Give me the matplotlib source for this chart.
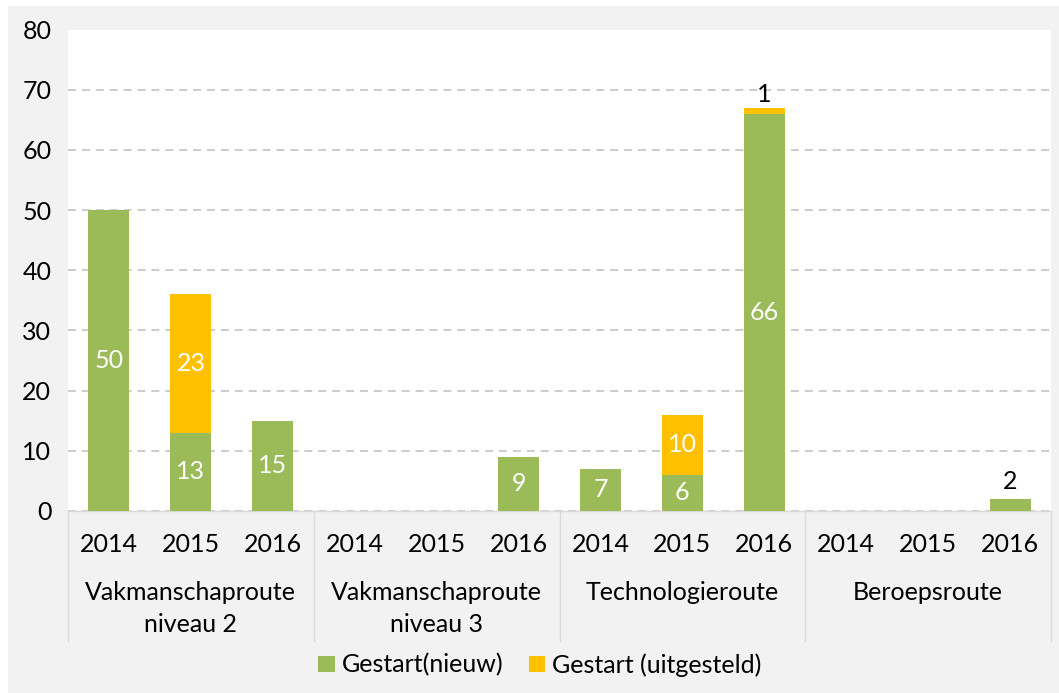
import matplotlib
matplotlib.use("Agg")
import matplotlib.pyplot as plt
from matplotlib.patches import Patch, Rectangle
import numpy as np

plt.rcParams['font.family'] = ['Lato', 'DejaVu Sans']

groups = ["Vakmanschaproute\nniveau 2", "Vakmanschaproute\nniveau 3", "Technologieroute", "Beroepsroute"]
years = ["2014", "2015", "2016"]
nieuw = [50, 13, 15, 0, 0, 9, 7, 6, 66, 0, 0, 2]
uitgesteld = [0, 23, 0, 0, 0, 0, 0, 10, 1, 0, 0, 0]
series_names = ["Gestart(nieuw)", "Gestart (uitgesteld)"]

green = "#9BBB59"
orange = "#FFC000"
bg = "#F2F2F2"

W, H = 1059, 693
fig = plt.figure(figsize=(W / 100, H / 100), dpi=100, facecolor="white")
fig.patches.append(Rectangle((8 / W, 0), 1 - 8 / W, 1 - 6 / H, transform=fig.transFigure,
                             facecolor=bg, edgecolor="none", zorder=-10))

ax_l, ax_r, ax_t, ax_b = 68, 1051, 29.5, 511
ax = fig.add_axes([ax_l / W, 1 - ax_b / H, (ax_r - ax_l) / W, (ax_b - ax_t) / H])
ax.set_facecolor("white")

x = np.arange(len(nieuw))
ax.bar(x, nieuw, width=0.5, color=green, zorder=3)
ax.bar(x, uitgesteld, width=0.5, bottom=nieuw, color=orange, zorder=3)

fs = 18
for i in range(len(nieuw)):
    n, u = nieuw[i], uitgesteld[i]
    if n >= 5:
        ax.text(i, n / 2, str(n), ha="center", va="center", color="white", fontsize=fs, zorder=4)
    elif n > 0:
        ax.text(i, n + 1, str(n), ha="center", va="bottom", color="black", fontsize=fs, zorder=4)
    if u >= 5:
        ax.text(i, n + u / 2, str(u), ha="center", va="center", color="white", fontsize=fs, zorder=4)
    elif u > 0:
        ax.text(i, n + u + 0.3, str(u), ha="center", va="bottom", color="black", fontsize=fs, zorder=4)

ax.set_xlim(-0.5, len(nieuw) - 0.5)
ax.set_ylim(0, 80)
ax.set_yticks(range(0, 81, 10))
ax.tick_params(axis="y", length=0, labelsize=fs, pad=12)
ax.set_xticks([])
ax.yaxis.grid(True, color="#BFBFBF", linewidth=1.1, linestyle=(0, (5.2, 3.9)), zorder=0)
ax.set_axisbelow(True)
for s in ["left", "right", "top"]:
    ax.spines[s].set_visible(False)
ax.spines["bottom"].set_color("#D9D9D9")
ax.spines["bottom"].set_linewidth(1.0)

hpx = ax_b - ax_t
def ay(py):
    return (ax_b - py) / hpx

trans = ax.get_xaxis_transform()
for i in range(len(nieuw)):
    ax.text(i, ay(545), years[i % 3], ha="center", va="center", fontsize=fs, transform=trans, clip_on=False)
for g, name in enumerate(groups):
    ax.text(g * 3 + 1, ay(581), name, ha="center", va="top", fontsize=fs, transform=trans,
            clip_on=False, linespacing=1.5)
for g in range(len(groups) + 1):
    ax.plot([g * 3 - 0.5, g * 3 - 0.5], [0, ay(641)], color="#D9D9D9", linewidth=1.0,
            transform=trans, clip_on=False)

handles = [Patch(facecolor=green, edgecolor="none"), Patch(facecolor=orange, edgecolor="none")]
fig.legend(handles, series_names, loc="center", bbox_to_anchor=(540 / W, 1 - 665 / H), ncol=2,
           frameon=False, fontsize=fs, handlelength=0.65, handleheight=0.65, handletextpad=0.3,
           columnspacing=1.0)

fig.savefig("out.png", dpi=100, facecolor=fig.get_facecolor())
